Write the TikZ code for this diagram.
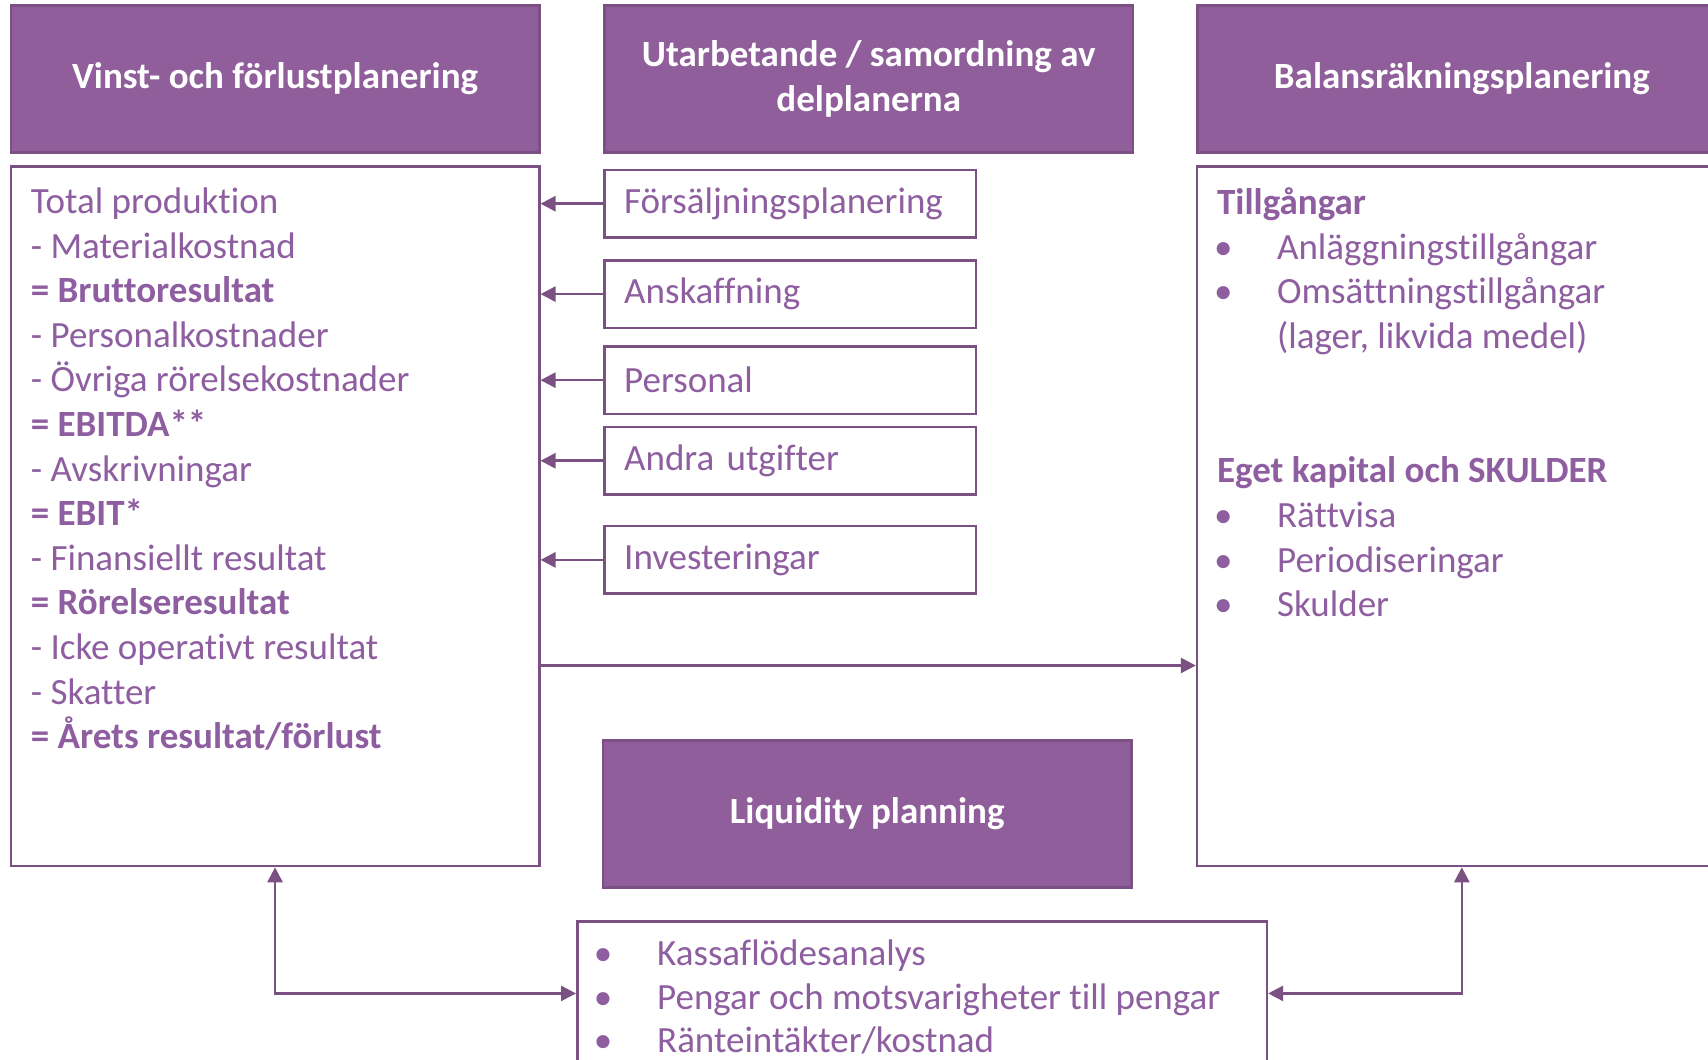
\documentclass[tikz,border=0pt]{standalone}
\usepackage{fontspec}
\setmainfont{Carlito}[Ligatures={NoCommon}]
\usepackage{tikz}
\usetikzlibrary{arrows.meta}
\definecolor{lila}{HTML}{8F5E9B}
\definecolor{lilaline}{HTML}{7B5183}
\definecolor{lilatext}{HTML}{8E5EA0}
\newcommand{\brodtext}{\fontsize{18.5}{22.3}\selectfont}
\newcommand{\pkt}{\hspace*{-4.4pt}\makebox[31.6pt][l]{•}}
\newcommand{\hpkt}{\hspace*{-1.5pt}\makebox[31.5pt][l]{•}}
\newcommand{\indrag}{\hspace*{30pt}}

\tikzset{
    rubrik/.style={draw=lilaline, fill=lila, line width=1.3pt, text=white,
        font=\bfseries\brodtext, align=center,
        minimum width=264.2pt, minimum height=73.5pt},
    ruta/.style={draw=lilaline, line width=1.3pt, fill=white},
    delplan/.style={ruta, text=lilatext, font=\brodtext, align=left,
        text width=166.1pt, inner xsep=9.8pt, minimum height=33.8pt},
    lista/.style={text=lilatext, font=\brodtext, align=left, inner sep=0pt, anchor=north west},
    pil/.style={draw=lilaline, line width=1.3pt, -{Triangle[length=7.5pt, width=7.5pt]}},
    dubbelpil/.style={draw=lilaline, line width=1.3pt,
        {Triangle[length=7.5pt, width=7.5pt]}-{Triangle[length=7.5pt, width=7.5pt]}}
}

\begin{document}
\begin{tikzpicture}[x=0.5447pt, y=-0.5447pt]
        \path[use as bounding box, clip] (0,0) rectangle (1568,973);

        % rubriker
        \node[rubrik] (vinst) at (252.5,72.5) {\raisebox{-1.5pt}{Vinst- och förlustplanering}};
        \node[rubrik] (samord) at (797.5,72.5) {Utarbetande / samordning av\\delplanerna};
        \node[rubrik] (balans) at (1342,72.5) {\raisebox{-1.5pt}{Balansräkningsplanering}};

        % stora rutor
        \node[ruta, minimum width=264.2pt, minimum height=349.7pt] (vinstbox) at (252.5,474) {};
        \node[ruta, minimum width=264.7pt, minimum height=349.7pt] (balbox) at (1342,474) {};

        \node[lista] (resultat) at (28,172) {Total produktion\\
            - Materialkostnad\\
            \textbf{= Bruttoresultat}\\
            - Personalkostnader\\
            - Övriga rörelsekostnader\\
            \textbf{= EBITDA**}\\
            - Avskrivningar\\
            \textbf{= EBIT*}\\
            - Finansiellt resultat\\
            \textbf{= Rörelseresultat}\\
            - Icke operativt resultat\\
            - Skatter\\
            \textbf{= Årets resultat/förlust}};

        \node[lista] (tillgangar) at (1117,172) {\textbf{Tillgångar}\\
            \hpkt Anläggningstillgångar\\
            \hpkt Omsättningstillgångar\\
            \indrag(lager, likvida medel)\\[45pt]
            \textbf{Eget kapital och SKULDER}\\
            \hpkt Rättvisa\\
            \hpkt Periodiseringar\\
            \hpkt Skulder};

        % delplaner
        \node[delplan] (forsaljning) at (725.5,187) {Försäljningsplanering};
        \node[delplan] (anskaffning) at (725.5,270) {Anskaffning};
        \node[delplan] (personal) at (725.5,349) {Personal};
        \node[delplan] (andra) at (725.5,423) {Andra utgifter};
        \node[delplan] (invest) at (725.5,514) {Investeringar};

        \draw[pil] (forsaljning.west) -- (forsaljning.west -| vinstbox.east);
        \draw[pil] (anskaffning.west) -- (anskaffning.west -| vinstbox.east);
        \draw[pil] (personal.west) -- (personal.west -| vinstbox.east);
        \draw[pil] (andra.west) -- (andra.west -| vinstbox.east);
        \draw[pil] (invest.west) -- (invest.west -| vinstbox.east);

        \draw[pil] ([yshift=-74.6pt]vinstbox.east) -- ([yshift=-74.6pt]balbox.west);

        % likviditet
        \node[rubrik] (likviditet) at (796,747) {\raisebox{-1.5pt}{Liquidity planning}};
        \node[ruta, minimum width=344.8pt, minimum height=83.9pt] (kassa) at (846.5,923) {};
        \node[lista] (kassalista) at (553,862) {\pkt Kassaflödesanalys\\
            \pkt Pengar och motsvarigheter till pengar\\[-1pt]
            \pkt Ränteintäkter/kostnad};

        \draw[dubbelpil] (vinstbox.south) |- ([yshift=6pt]kassa.west);
        \draw[dubbelpil] (balbox.south) |- ([yshift=6pt]kassa.east);
\end{tikzpicture}
\end{document}
